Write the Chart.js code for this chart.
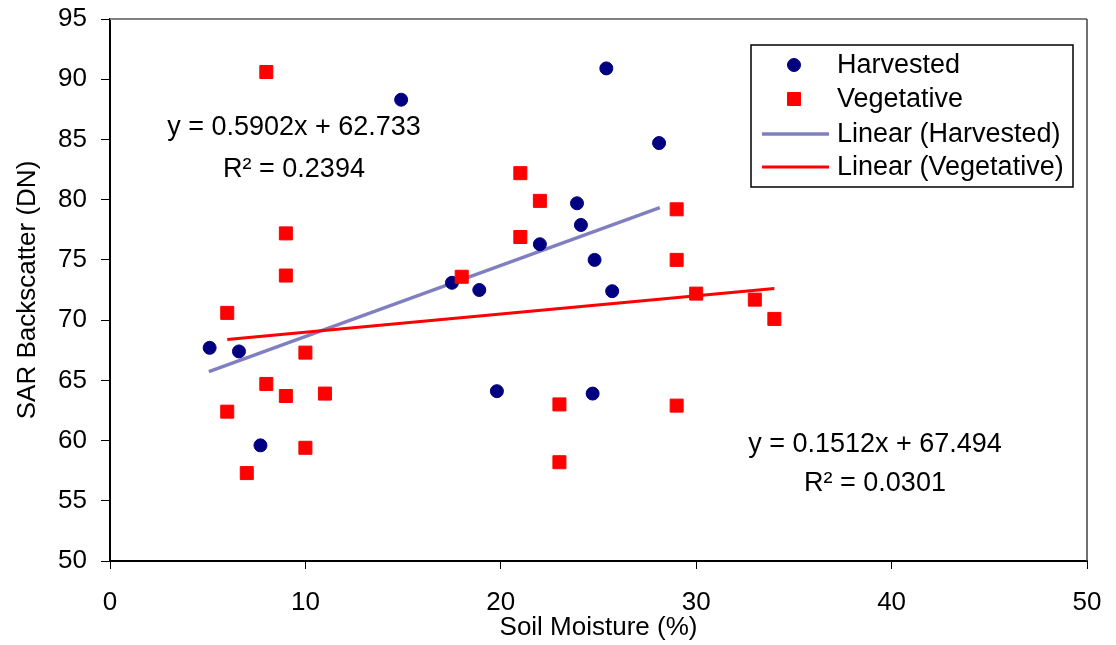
<!DOCTYPE html>
<html>
<head>
<meta charset="utf-8">
<script src="https://cdn.jsdelivr.net/npm/chart.js@4.4.1/dist/chart.umd.min.js"></script>
<style>
  html, body { margin: 0; padding: 0; background: #fff; }
  #wrap { width: 1116px; height: 645px; position: relative; }
</style>
</head>
<body>
<div id="wrap"><canvas id="chart"></canvas></div>
<script>
  // Harvested fields (soil moisture %, backscatter DN)
  const harvestedX = [14.9, 25.4, 28.1, 23.9, 24.1, 22.0, 24.8, 17.5, 18.9, 25.7, 19.8, 24.7, 5.1, 6.6, 7.7];
  const harvestedY = [88.3, 90.9, 84.7, 79.7, 77.9, 76.3, 75.0, 73.1, 72.5, 72.4, 64.1, 63.9, 67.7, 67.4, 59.6];

  // Vegetative fields
  const vegetativeX = [8, 9, 9, 18, 21, 22, 21, 29, 29, 30, 33, 34, 23, 29, 23, 6, 10, 8, 9, 11, 6, 10, 7];
  const vegetativeY = [90.6, 77.2, 73.7, 73.6, 82.2, 79.9, 76.9, 79.2, 75.0, 72.2, 71.7, 70.1, 63.0, 62.9, 58.2, 70.6, 67.3, 64.7, 63.7, 63.9, 62.4, 59.4, 57.3];

  // trend line end points
  const harvestedTrendX = [5.06, 28.14];
  const harvestedTrendY = [65.72, 79.34];
  const vegetativeTrendX = [6, 34];
  const vegetativeTrendY = [68.4, 72.63];

  const xTicks = [0, 10, 20, 30, 40, 50];
  const yTicks = [50, 55, 60, 65, 70, 75, 80, 85, 90, 95];

  const legendLabels = ["Harvested", "Vegetative", "Linear (Harvested)", "Linear (Vegetative)"];
  const harvestedEq = ["y = 0.5902x + 62.733", "R² = 0.2394"];
  const vegetativeEq = ["y = 0.1512x + 67.494", "R² = 0.0301"];

  const FONT = "'Liberation Sans', Arial, sans-serif";
  const pts = (xs, ys) => xs.map((x, i) => ({ x: x, y: ys[i] }));

  // top / right frame of the plot area
  const frame = {
    id: 'frame',
    afterDraw(chart) {
      const a = chart.chartArea, ctx = chart.ctx;
      ctx.save();
      ctx.strokeStyle = '#808080';
      ctx.lineWidth = 2;
      ctx.beginPath();
      ctx.moveTo(a.left, a.top);
      ctx.lineTo(a.right, a.top);
      ctx.stroke();
      ctx.strokeStyle = '#404040';
      ctx.lineWidth = 1.5;
      ctx.beginPath();
      ctx.moveTo(a.right, a.top);
      ctx.lineTo(a.right, a.bottom);
      ctx.stroke();
      ctx.restore();
    }
  };

  // equations + boxed legend
  const notes = {
    id: 'notes',
    afterDraw(chart) {
      const ctx = chart.ctx;
      ctx.save();
      ctx.fillStyle = '#000';
      ctx.font = '27px ' + FONT;
      ctx.textAlign = 'center';
      ctx.textBaseline = 'middle';
      ctx.fillText(harvestedEq[0], 294, 128);
      ctx.fillText(harvestedEq[1], 294, 170);
      ctx.fillText(vegetativeEq[0], 875, 445);
      ctx.fillText(vegetativeEq[1], 875, 484);

      // legend box
      ctx.fillStyle = '#fff';
      ctx.fillRect(751, 45, 322, 142);
      ctx.strokeStyle = '#000';
      ctx.lineWidth = 1.5;
      ctx.strokeRect(751, 45, 322, 142);

      const rows = [65, 99, 134, 167];
      const ds = chart.data.datasets;
      ctx.textAlign = 'left';
      legendLabels.forEach((lab, i) => {
        const y = rows[i];
        const d = ds[i];
        if (d.type === 'line') {
          ctx.strokeStyle = d.borderColor;
          ctx.lineWidth = d.borderWidth;
          ctx.beginPath();
          ctx.moveTo(762, y);
          ctx.lineTo(829, y);
          ctx.stroke();
        } else {
          ctx.fillStyle = d.backgroundColor;
          ctx.strokeStyle = d.borderColor;
          ctx.lineWidth = d.borderWidth;
          ctx.beginPath();
          if (d.pointStyle === 'circle') {
            ctx.arc(794, y, d.pointRadius, 0, Math.PI * 2);
          } else {
            const s = d.pointRadius * Math.SQRT1_2;
            ctx.rect(794 - s, y - s, 2 * s, 2 * s);
          }
          ctx.fill();
          ctx.stroke();
        }
        ctx.fillStyle = '#000';
        ctx.fillText(lab, 837, y + 1);
      });
      ctx.restore();
    }
  };

  new Chart(document.getElementById('chart'), {
    type: 'scatter',
    data: {
      datasets: [
        {
          label: legendLabels[0],
          data: pts(harvestedX, harvestedY),
          pointStyle: 'circle',
          pointRadius: 6.5,
          borderWidth: 1,
          backgroundColor: '#000080',
          borderColor: '#000080',
          order: 1
        },
        {
          label: legendLabels[1],
          data: pts(vegetativeX, vegetativeY),
          pointStyle: 'rect',
          pointRadius: 9.2,
          borderWidth: 1,
          backgroundColor: '#ff0000',
          borderColor: '#ff0000',
          order: 0
        },
        {
          type: 'line',
          label: legendLabels[2],
          data: pts(harvestedTrendX, harvestedTrendY),
          borderColor: '#8080c0',
          borderWidth: 3.5,
          pointRadius: 0,
          fill: false,
          order: 3
        },
        {
          type: 'line',
          label: legendLabels[3],
          data: pts(vegetativeTrendX, vegetativeTrendY),
          borderColor: '#ff0000',
          borderWidth: 3,
          pointRadius: 0,
          fill: false,
          order: 2
        }
      ]
    },
    options: {
      responsive: true,
      maintainAspectRatio: false,
      animation: false,
      layout: { padding: { left: 0, right: 29, top: 19, bottom: 0 } },
      plugins: {
        legend: { display: false },
        tooltip: { enabled: false }
      },
      scales: {
        x: {
          type: 'linear',
          min: 0,
          max: 50,
          afterBuildTicks: s => { s.ticks = xTicks.map(v => ({ value: v })); },
          afterFit: s => { s.height = 84; s.paddingLeft = 0; s.paddingRight = 0; },
          grid: { drawOnChartArea: false, drawTicks: true, tickLength: 8, color: '#000', tickWidth: 1 },
          border: { color: '#000', width: 2 },
          ticks: { color: '#000', font: { family: FONT, size: 26 }, padding: 18, maxRotation: 0, autoSkip: false },
          title: { display: true, text: 'Soil Moisture (%)', color: '#000', font: { family: FONT, size: 26 }, padding: { top: 0, bottom: 2 } }
        },
        y: {
          type: 'linear',
          min: 50,
          max: 95,
          afterBuildTicks: s => { s.ticks = yTicks.map(v => ({ value: v })); },
          afterFit: s => { s.width = 110; s.paddingTop = 0; s.paddingBottom = 0; },
          grid: { drawOnChartArea: false, drawTicks: true, tickLength: 9, color: '#000', tickWidth: 1 },
          border: { color: '#000', width: 2 },
          ticks: { color: '#000', font: { family: FONT, size: 26 }, padding: 14, autoSkip: false },
          title: { display: true, text: 'SAR Backscatter (DN)', color: '#000', font: { family: FONT, size: 26 }, padding: { top: 12, bottom: 0 } }
        }
      }
    },
    plugins: [frame, notes]
  });
</script>
</body>
</html>
